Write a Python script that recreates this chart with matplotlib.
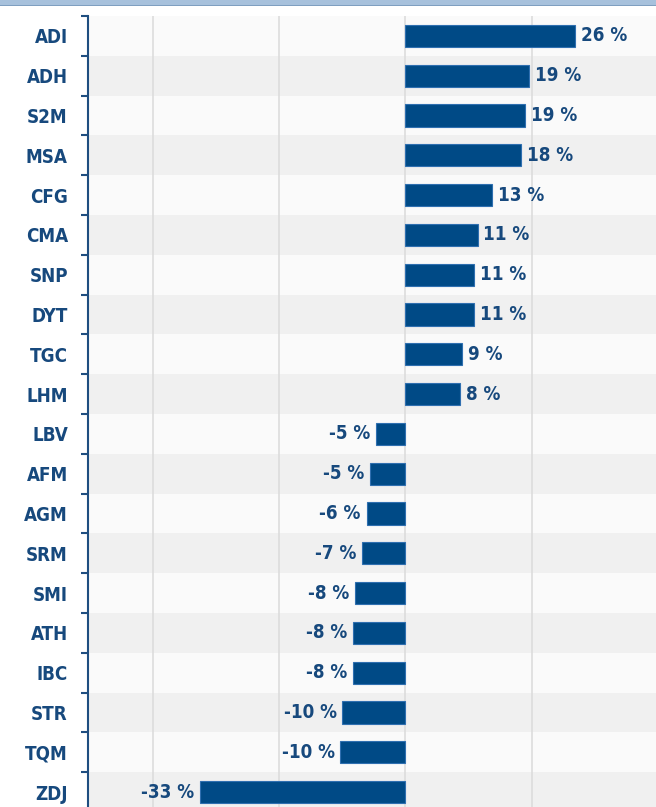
import matplotlib.pyplot as plt
from matplotlib.patches import Rectangle
from matplotlib import font_manager
import numpy as np

codes = ["ADI", "ADH", "S2M", "MSA", "CFG", "CMA", "SNP", "DYT", "TGC", "LHM",
         "LBV", "AFM", "AGM", "SRM", "SMI", "ATH", "IBC", "STR", "TQM", "ZDJ"]
values = [26, 19, 19, 18, 13, 11, 11, 11, 9, 8,
          -5, -5, -6, -7, -8, -8, -8, -10, -10, -33]
# bar lengths as drawn (labels are rounded)
lengths = [26.6, 19.5, 18.8, 18.2, 13.6, 11.4, 10.8, 10.8, 8.9, 8.6,
           -4.5, -5.4, -6.0, -6.7, -7.8, -8.2, -8.2, -9.8, -10.1, -32.1]

names = {f.name for f in font_manager.fontManager.ttflist}
print(sorted(names))
if "DejaVu Sans" in names and any("Condensed" in f.fname for f in font_manager.fontManager.ttflist):
    stretch = "condensed"
else:
    stretch = "normal"
plt.rcParams['font.family'] = ['DejaVu Sans']

W, H = 656, 807
fig = plt.figure(figsize=(W / 100, H / 100), dpi=100)
fig.patch.set_facecolor("white")

# cropped title band at the top
fig.patches.append(Rectangle((0, 1 - 5 / H), 1, 5 / H, transform=fig.transFigure,
                             facecolor="#a7c1dc", edgecolor="none"))
fig.patches.append(Rectangle((0, 1 - 6 / H), 1, 1.2 / H, transform=fig.transFigure,
                             facecolor="#7f9fc0", edgecolor="none"))

top_px, bot_px = 16, 812
left_px, right_px = 88, 656
ax = fig.add_axes([left_px / W, 1 - bot_px / H, (right_px - left_px) / W,
                   (bot_px - top_px) / H])

n = len(codes)
y = np.arange(n)
ax.set_ylim(n - 0.5, -0.5)
ax.set_xlim(-49.6, 39.3)

for i in range(n):
    ax.axhspan(i - 0.5, i + 0.5, color="#fafafa" if i % 2 == 0 else "#f0f0f0",
               zorder=0, lw=0)

for gx in [-39.5, -19.7, 0, 19.9]:
    ax.axvline(gx, color="#dcdcdc", lw=1.2, zorder=1)

ax.barh(y, lengths, height=0.56, color="#004a86", edgecolor="#2f6fb0",
        linewidth=0.8, zorder=3)

txt_color = "#17497d"
fs = 13.5
for i, (v, L) in enumerate(zip(values, lengths)):
    if L >= 0:
        ax.text(L + 0.9, i, f"{v} %", ha="left", va="center", fontsize=fs,
                fontweight="bold", fontstretch=stretch, color=txt_color, zorder=4)
    else:
        ax.text(L - 0.9, i, f"{v} %", ha="right", va="center", fontsize=fs,
                fontweight="bold", fontstretch=stretch, color=txt_color, zorder=4)

ax.set_yticks(y)
ax.set_yticklabels(codes, fontsize=fs, fontweight="bold", fontstretch=stretch,
                   color=txt_color)
ax.tick_params(axis="y", which="major", length=0, pad=14.5)
ax.set_yticks(np.arange(n + 1) - 0.5, minor=True)
ax.tick_params(axis="y", which="minor", length=5, width=1.5, color="#1f4e80",
               direction="out")
ax.set_xticks([])

for s in ["top", "right", "bottom"]:
    ax.spines[s].set_visible(False)
ax.spines["left"].set_color("#1f4e80")
ax.spines["left"].set_linewidth(1.5)

fig.savefig("out.png", dpi=100)
